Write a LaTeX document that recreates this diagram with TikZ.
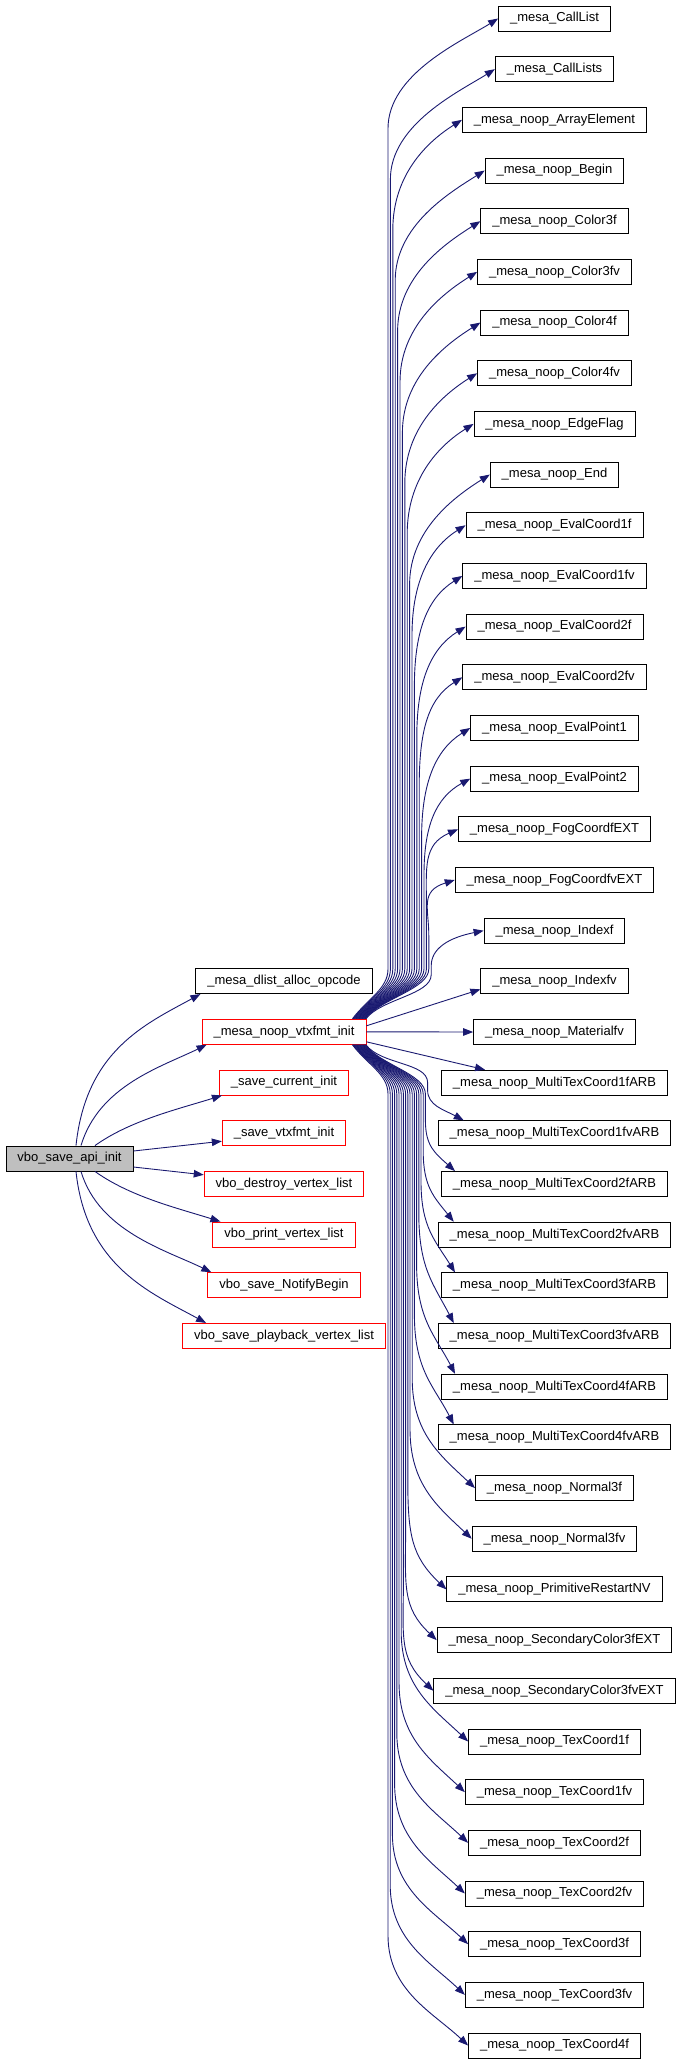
\documentclass[tikz,border=0pt]{standalone}
\usepackage{fontspec}
\setmainfont{Liberation Sans}
\usetikzlibrary{arrows.meta,calc}
\definecolor{edgeblue}{RGB}{25,25,112}
\definecolor{rootgray}{RGB}{191,191,191}
\definecolor{boxred}{RGB}{255,0,0}
\begin{document}
\begin{tikzpicture}[x=1pt,y=1pt,
  box/.style={draw, line width=0.9pt, minimum height=25pt, inner xsep=11.5pt, inner ysep=0pt, font=\fontsize{13}{15}\selectfont, anchor=center},
  leaf/.style={box, draw=black},
  redbox/.style={box, draw=boxred},
  rootbox/.style={box, draw=black, fill=rootgray},
  edge/.style={draw=edgeblue, line width=0.9pt, -{Triangle[length=10pt,width=7.5pt]}}
]
\useasboundingbox (0,0) rectangle (680,-2064);

\node[rootbox] (root) at (69.5,-1158.5) {vbo\_save\_api\_init};

\node[leaf] (m0) at (284,-981.1) {\_mesa\_dlist\_alloc\_opcode};
\node[redbox] (vt) at (284,-1031.8) {\_mesa\_noop\_vtxfmt\_init};
\node[redbox] (m2) at (284,-1082.5) {\_save\_current\_init};
\node[redbox] (m3) at (284,-1133.2) {\_save\_vtxfmt\_init};
\node[redbox] (m4) at (284,-1183.8) {vbo\_destroy\_vertex\_list};
\node[redbox] (m5) at (284,-1234.5) {vbo\_print\_vertex\_list};
\node[redbox] (m6) at (284,-1285.2) {vbo\_save\_NotifyBegin};
\node[redbox] (m7) at (284,-1335.9) {vbo\_save\_playback\_vertex\_list};

\foreach \i/\t in {0/CallList,1/CallLists,2/noop\_ArrayElement,3/noop\_Begin,
  4/noop\_Color3f,5/noop\_Color3fv,6/noop\_Color4f,7/noop\_Color4fv,
  8/noop\_EdgeFlag,9/noop\_End,10/noop\_EvalCoord1f,11/noop\_EvalCoord1fv,
  12/noop\_EvalCoord2f,13/noop\_EvalCoord2fv,14/noop\_EvalPoint1,15/noop\_EvalPoint2,
  16/noop\_FogCoordfEXT,17/noop\_FogCoordfvEXT,18/noop\_Indexf,19/noop\_Indexfv,
  20/noop\_Materialfv,21/noop\_MultiTexCoord1fARB,22/noop\_MultiTexCoord1fvARB,
  23/noop\_MultiTexCoord2fARB,24/noop\_MultiTexCoord2fvARB,25/noop\_MultiTexCoord3fARB,
  26/noop\_MultiTexCoord3fvARB,27/noop\_MultiTexCoord4fARB,28/noop\_MultiTexCoord4fvARB,
  29/noop\_Normal3f,30/noop\_Normal3fv,31/noop\_PrimitiveRestartNV,
  32/noop\_SecondaryColor3fEXT,33/noop\_SecondaryColor3fvEXT,
  34/noop\_TexCoord1f,35/noop\_TexCoord1fv,36/noop\_TexCoord2f,37/noop\_TexCoord2fv,
  38/noop\_TexCoord3f,39/noop\_TexCoord3fv,40/noop\_TexCoord4f}
  {\node[leaf] (r\i) at (554.5,{-(18.5+50.675*\i)}) {\_mesa\_\t};}

% edges from root
\draw[edge] ([xshift=6.5pt]root.north) .. controls +(10,95) and +(-55,-30) .. ([xshift=5pt]m0.south west);
\draw[edge] ([xshift=11.5pt]root.north) .. controls +(18,60) and +(-45,-22) .. ([xshift=5pt]vt.south west);
\draw[edge] ([xshift=25.5pt]root.north) .. controls +(35,25) and +(-45,-14) .. ([xshift=3pt]m2.south west);
\draw[edge] ([yshift=7.5pt]root.east) -- ([yshift=-8pt]m3.west);
\draw[edge] ([yshift=-8.5pt]root.east) -- ([yshift=9pt]m4.west);
\draw[edge] ([xshift=25.5pt]root.south) .. controls +(35,-25) and +(-45,14) .. ([xshift=8pt]m5.north west);
\draw[edge] ([xshift=11.5pt]root.south) .. controls +(18,-60) and +(-45,22) .. ([xshift=4pt]m6.north west);
\draw[edge] ([xshift=6.5pt]root.south) .. controls +(10,-95) and +(-55,30) .. ([xshift=24pt]m7.north west);

% upward fan
\foreach \i in {0,...,18} {
  \pgfmathsetmacro\yt{18.5+50.675*\i}
  \pgfmathsetmacro\dy{1019-\yt}
  \pgfmathsetmacro\h{min(110,0.4*\dy)}
  \pgfmathsetmacro\mx{388+2.4*\i}
  \pgfmathsetmacro\my{\yt+\h}
  \pgfmathsetmacro\py{1019-min(50,0.5*\dy)}
  \pgfmathsetmacro\pc{\py+20}
  \pgfmathsetmacro\cc{\my-0.5*\h}
  \pgfmathsetmacro\ey{0.2*\h}
  \pgfmathsetmacro\sx{-14+0.75*\i}
  \draw[edge] ([xshift=\sx pt]vt.north east) .. controls +(15,20) and (\mx,-\pc) .. (\mx,-\py) -- (\mx,-\my) .. controls (\mx,-\cc) and +(-35,-\ey) .. (r\i.west);
}
\draw[edge] ([yshift=6pt]vt.east) -- ([yshift=-8pt]r19.west);
\draw[edge] (vt.east) -- (r20.west);
\draw[edge] ([yshift=-10pt]vt.east) -- ([xshift=44pt]r21.north west);

% downward fan, to top-left corners
\foreach \i/\k in {22/26,23/14,24/16,25/14,26/16,27/14,28/16} {
  \pgfmathsetmacro\yt{18.5+50.675*\i-12.5}
  \pgfmathsetmacro\dy{\yt-1044}
  \pgfmathsetmacro\h{min(110,0.4*\dy)}
  \pgfmathsetmacro\mx{388+2.2*(40-\i)}
  \pgfmathsetmacro\my{\yt-\h}
  \pgfmathsetmacro\py{1044+min(50,0.5*\dy)}
  \pgfmathsetmacro\pc{\py-20}
  \pgfmathsetmacro\cc{\my+0.5*\h}
  \pgfmathsetmacro\ey{0.35*\h}
  \pgfmathsetmacro\sx{-14+0.75*(40-\i)}
  \draw[edge] ([xshift=\sx pt]vt.south east) .. controls +(15,-20) and (\mx,-\pc) .. (\mx,-\py) -- (\mx,-\my) .. controls (\mx,-\cc) and +(-20,\ey) .. ([xshift=\k pt]r\i.north west);
}
% downward fan, to west sides
\foreach \i in {29,...,40} {
  \pgfmathsetmacro\yt{18.5+50.675*\i}
  \pgfmathsetmacro\dy{\yt-1044}
  \pgfmathsetmacro\h{min(110,0.4*\dy)}
  \pgfmathsetmacro\mx{388+2.2*(40-\i)}
  \pgfmathsetmacro\my{\yt-\h}
  \pgfmathsetmacro\py{1044+min(50,0.5*\dy)}
  \pgfmathsetmacro\pc{\py-20}
  \pgfmathsetmacro\cc{\my+0.5*\h}
  \pgfmathsetmacro\ey{0.3*\h}
  \pgfmathsetmacro\sx{-14+0.75*(40-\i)}
  \draw[edge] ([xshift=\sx pt]vt.south east) .. controls +(15,-20) and (\mx,-\pc) .. (\mx,-\py) -- (\mx,-\my) .. controls (\mx,-\cc) and +(-35,\ey) .. (r\i.west);
}
\end{tikzpicture}
\end{document}
